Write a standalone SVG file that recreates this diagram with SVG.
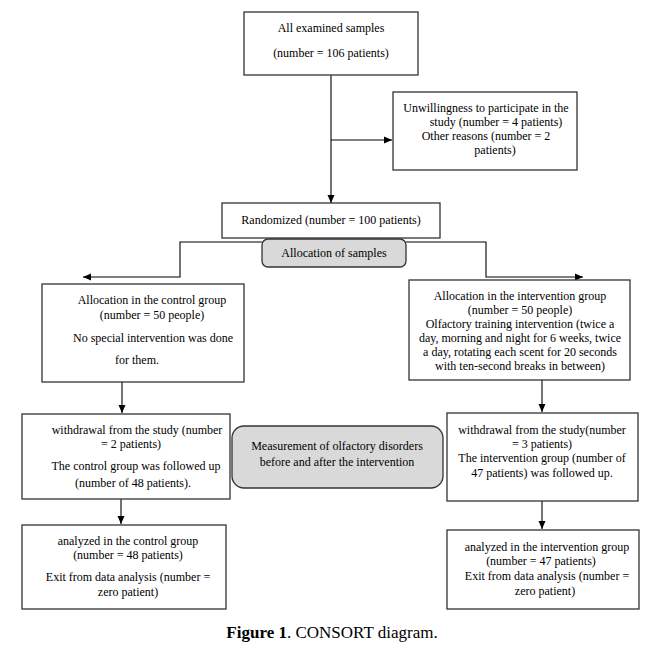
<svg xmlns="http://www.w3.org/2000/svg" width="651" height="645" viewBox="0 0 651 645" font-family="'Liberation Serif', 'Times New Roman', 'DejaVu Serif', serif">
<defs>
<marker id="ah" viewBox="0 0 8 8" refX="8" refY="4" markerWidth="8" markerHeight="8" markerUnits="userSpaceOnUse" orient="auto">
<path d="M0,0.5 L8,4 L0,7.5 Z" fill="#000"/>
</marker>
</defs>
<style>
.box{fill:#fff;stroke:#333;stroke-width:1.3}
.grey{fill:#d9d9d9;stroke:#333;stroke-width:1.3}
.c{fill:none;stroke:#000;stroke-width:1.1}
text{font-family:'Liberation Serif','Times New Roman','DejaVu Serif',serif;font-size:12px;fill:#000;text-anchor:middle}
.cap{font-size:17px}
</style>
<rect width="651" height="645" fill="#fff"/>
<g id="connectors">
<path class="c" d="M331,75 V203" marker-end="url(#ah)"/>
<path class="c" d="M331,140 H392" marker-end="url(#ah)"/>
<path class="c" d="M262,242 H180 V277 H83" marker-end="url(#ah)"/>
<path class="c" d="M406,242 H486 V277 H583" marker-end="url(#ah)"/>
<path class="c" d="M122,382 V413" marker-end="url(#ah)"/>
<path class="c" d="M121,499 V524" marker-end="url(#ah)"/>
<path class="c" d="M542,380 V412" marker-end="url(#ah)"/>
<path class="c" d="M542,501 V529" marker-end="url(#ah)"/>
</g>
<g id="n-all">
<rect class="box" x="244" y="12" width="174" height="63"/>
<text x="331" y="32">All examined samples</text>
<text x="331" y="57">(number = 106 patients)</text>
</g>
<g id="n-excluded">
<rect class="box" x="393" y="92" width="184" height="78"/>
<text x="486" y="112">Unwillingness to participate in the</text>
<text x="496" y="126">study (number = 4 patients)</text>
<text x="486" y="140">Other reasons (number = 2</text>
<text x="495" y="154">patients)</text>
</g>
<g id="n-randomized">
<rect class="box" x="222" y="203" width="218" height="35"/>
<text x="331" y="224">Randomized (number = 100 patients)</text>
</g>
<g id="n-allocation">
<rect class="grey" x="262" y="239" width="144" height="28" rx="6"/>
<text x="334" y="257">Allocation of samples</text>
</g>
<g id="n-control-alloc">
<rect class="box" x="42" y="284" width="202" height="98"/>
<text x="152" y="304">Allocation in the control group</text>
<text x="152" y="319">(number = 50 people)</text>
<text x="153" y="342">No special intervention was done</text>
<text x="137" y="364">for them.</text>
</g>
<g id="n-interv-alloc">
<rect class="box" x="409" y="280" width="221" height="100"/>
<text x="520" y="300">Allocation in the intervention group</text>
<text x="520" y="314">(number = 50 people)</text>
<text x="520" y="328">Olfactory training intervention (twice a</text>
<text x="520" y="342">day, morning and night for 6 weeks, twice</text>
<text x="520" y="356">a day, rotating each scent for 20 seconds</text>
<text x="520" y="370">with ten-second breaks in between)</text>
</g>
<g id="n-control-withdraw">
<rect class="box" x="22" y="414" width="208" height="85"/>
<text x="137" y="434">withdrawal from the study (number</text>
<text x="131" y="448">= 2 patients)</text>
<text x="136" y="470">The control group was followed up</text>
<text x="133" y="487">(number of 48 patients).</text>
</g>
<g id="n-measurement">
<rect class="grey" x="232" y="426" width="211" height="62" rx="12"/>
<text x="337" y="450">Measurement of olfactory disorders</text>
<text x="337" y="466">before and after the intervention</text>
</g>
<g id="n-interv-withdraw">
<rect class="box" x="447" y="413" width="191" height="88"/>
<text x="542" y="434">withdrawal from the study(number</text>
<text x="542" y="448">= 3 patients)</text>
<text x="542" y="462">The intervention group (number of</text>
<text x="542" y="477">47 patients) was followed up.</text>
</g>
<g id="n-control-analyzed">
<rect class="box" x="22" y="525" width="204" height="84"/>
<text x="128" y="545">analyzed in the control group</text>
<text x="128" y="559">(number = 48 patients)</text>
<text x="128" y="581">Exit from data analysis (number =</text>
<text x="128" y="596">zero patient)</text>
</g>
<g id="n-interv-analyzed">
<rect class="box" x="447" y="530" width="192" height="79"/>
<text x="547" y="551">analyzed in the intervention group</text>
<text x="541" y="565">(number = 47 patients)</text>
<text x="547" y="580">Exit from data analysis (number =</text>
<text x="545" y="595">zero patient)</text>
</g>
<text class="cap" x="332" y="638"><tspan font-weight="bold">Figure 1</tspan>. CONSORT diagram.</text>
</svg>
